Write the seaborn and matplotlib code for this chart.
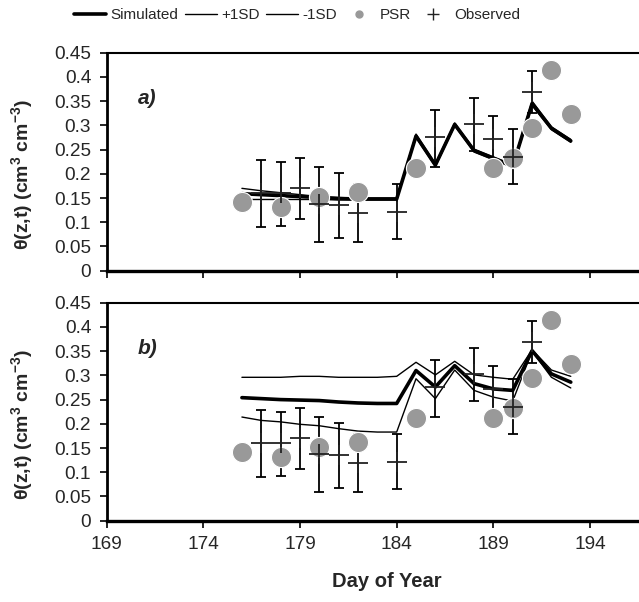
import numpy as np
import pandas as pd
import seaborn as sns
import matplotlib.pyplot as plt
from matplotlib.lines import Line2D

# %% data
sim_days = [176, 177, 178, 179, 180, 181, 182, 183, 184, 185, 186, 187, 188, 189, 190, 191, 192, 193]

# panel a
sim_a = [0.159, 0.157, 0.155, 0.153, 0.151, 0.149, 0.148, 0.148, 0.148, 0.278, 0.218, 0.302, 0.248, 0.232, 0.216, 0.345, 0.294, 0.268]
hi_a = [0.170, 0.165, 0.161, 0.157, 0.153, 0.151, 0.150, 0.150, 0.150, 0.282, 0.221, 0.305, 0.251, 0.235, 0.219, 0.350, 0.297, 0.271]
lo_a = [0.147, 0.147, 0.147, 0.147, 0.147, 0.146, 0.146, 0.146, 0.146, 0.275, 0.215, 0.299, 0.245, 0.229, 0.213, 0.341, 0.291, 0.265]

# panel b
sim_b = [0.254, 0.252, 0.250, 0.249, 0.248, 0.245, 0.243, 0.242, 0.242, 0.310, 0.276, 0.320, 0.283, 0.272, 0.269, 0.351, 0.303, 0.286]
hi_b = [0.296, 0.296, 0.296, 0.298, 0.298, 0.296, 0.296, 0.296, 0.298, 0.327, 0.301, 0.329, 0.301, 0.296, 0.292, 0.353, 0.311, 0.298]
lo_b = [0.214, 0.207, 0.204, 0.199, 0.196, 0.190, 0.185, 0.183, 0.183, 0.293, 0.252, 0.311, 0.269, 0.255, 0.247, 0.350, 0.296, 0.274]

# PSR (same in both panels)
psr_days = [176, 178, 180, 182, 185, 189, 190, 191, 192, 193]
psr_vals = [0.142, 0.131, 0.153, 0.162, 0.213, 0.213, 0.233, 0.294, 0.414, 0.323]

# observed with error bar ends
obs_days = [177, 178, 179, 180, 181, 182, 184, 186, 188, 189, 190, 191]
obs_vals = [0.160, 0.160, 0.171, 0.138, 0.135, 0.119, 0.122, 0.277, 0.302, 0.271, 0.234, 0.369]
obs_hi = [0.229, 0.224, 0.233, 0.214, 0.202, 0.178, 0.178, 0.332, 0.356, 0.319, 0.292, 0.412]
obs_lo = [0.091, 0.093, 0.106, 0.060, 0.068, 0.060, 0.065, 0.215, 0.248, 0.223, 0.179, 0.325]

x_ticks = [169, 174, 179, 184, 189, 194]
y_ticks = [0, 0.05, 0.1, 0.15, 0.2, 0.25, 0.3, 0.35, 0.4, 0.45]
y_ticklabels = ["0", "0.05", "0.1", "0.15", "0.2", "0.25", "0.3", "0.35", "0.4", "0.45"]

panels = {
    "a)": {"sim": sim_a, "hi": hi_a, "lo": lo_a},
    "b)": {"sim": sim_b, "hi": hi_b, "lo": lo_b},
}

# %% style
sns.set_style("ticks")
plt.rcParams["font.family"] = ["Liberation Sans", "DejaVu Sans"]
plt.rcParams["mathtext.fontset"] = "custom"
plt.rcParams["mathtext.rm"] = "Liberation Sans:bold"
plt.rcParams["mathtext.bf"] = "Liberation Sans:bold"
plt.rcParams["mathtext.default"] = "bf"

PSR_COLOR = "#999999"
FONTSIZE = 13.7

fig = plt.figure(figsize=(6.39, 6.02), dpi=100)
left = 106.5 / 639
width = 561 / 639
ax_a = fig.add_axes([left, 1 - 270.7 / 602, width, 218 / 602])
ax_b = fig.add_axes([left, 1 - 520.7 / 602, width, 218 / 602])

obs_df = pd.DataFrame({"day": obs_days, "val": obs_vals, "hi": obs_hi, "lo": obs_lo})
psr_df = pd.DataFrame({"day": psr_days, "val": psr_vals})

for ax, (tag, p) in zip([ax_a, ax_b], panels.items()):
    sdf = pd.DataFrame({"day": sim_days, "sim": p["sim"], "hi": p["hi"], "lo": p["lo"]})
    sns.lineplot(data=sdf, x="day", y="hi", ax=ax, color="black", lw=1.0, zorder=2)
    sns.lineplot(data=sdf, x="day", y="lo", ax=ax, color="black", lw=1.0, zorder=2)
    sns.lineplot(data=sdf, x="day", y="sim", ax=ax, color="black", lw=2.6, zorder=3)

    yerr = np.array([obs_df.val - obs_df.lo, obs_df.hi - obs_df.val])
    ax.errorbar(
        obs_df.day, obs_df.val, yerr=yerr, fmt="none",
        ecolor="black", elinewidth=1.3, capsize=3.5, capthick=1.3, zorder=4,
    )
    sns.scatterplot(
        data=psr_df, x="day", y="val", ax=ax, color=PSR_COLOR,
        s=210, edgecolor="white", linewidth=0.8, zorder=5,
    )
    ax.plot(obs_df.day, obs_df.val, ls="none", marker="+", ms=15,
            mew=1.3, color="#222222", zorder=6)

    ax.set_xlim(169, 198)
    ax.set_ylim(0, 0.45)
    ax.set_xticks(x_ticks)
    ax.set_xticklabels([str(t) for t in x_ticks])
    ax.set_yticks(y_ticks)
    ax.set_yticklabels(y_ticklabels)
    ax.tick_params(axis="both", direction="out", length=5, width=1.2,
                   labelsize=FONTSIZE, color="black", pad=6)
    ax.spines["right"].set_visible(False)
    ax.spines["left"].set_linewidth(2.0)
    ax.spines["bottom"].set_linewidth(2.4)
    ax.spines["top"].set_linewidth(1.5)
    for s in ax.spines.values():
        s.set_color("black")
    ax.set_xlabel("")
    ax.set_ylabel(r"θ(z,t) (cm$^3$ cm$^{-3}$)", fontsize=14, fontweight="bold")
    ax.yaxis.set_label_coords(-0.128, 0.44)
    ax.text(171.1, 0.355, tag, fontsize=15, fontweight="bold", style="italic",
            ha="center", va="center")

ax_a.set_xticklabels([])
ax_b.set_xlabel("Day of Year", fontsize=14.5, fontweight="bold", labelpad=14)

handles = [
    Line2D([], [], color="black", lw=2.6),
    Line2D([], [], color="black", lw=1.0),
    Line2D([], [], color="black", lw=1.0),
    Line2D([], [], ls="none", marker="o", ms=5, color=PSR_COLOR),
    Line2D([], [], ls="none", marker="+", ms=9, mew=1.0, color="#222222"),
]
labels = ["Simulated", "+1SD", "-1SD", "PSR", "Observed"]
fig.legend(handles, labels, loc="center", bbox_to_anchor=(297 / 639, 1 - 15 / 602),
           ncol=5, frameon=False, fontsize=11, handlelength=2.1,
           handletextpad=0.3, columnspacing=0.4)

fig.savefig("out.png", dpi=100)
